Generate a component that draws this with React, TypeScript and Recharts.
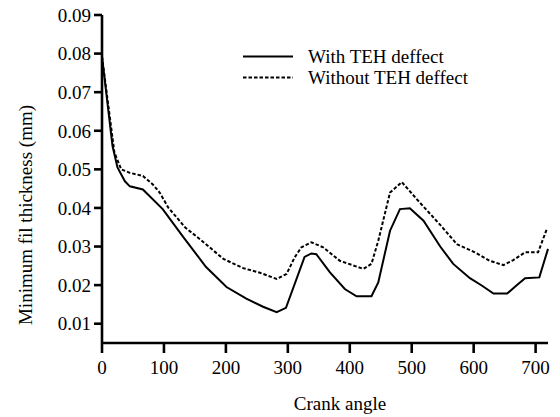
import { LineChart, Line, XAxis, YAxis, Legend, Label } from 'recharts'

const withAngles = [0, 17, 25, 37, 45, 66, 98, 131, 168, 201, 233, 260, 282, 297, 327, 338, 346, 368, 392, 411, 435, 446, 465, 481, 497, 519, 546, 567, 594, 613, 632, 654, 669, 683, 706, 720]
const withValues = [0.0792, 0.056, 0.0505, 0.0469, 0.0456, 0.0448, 0.0397, 0.0325, 0.0247, 0.0195, 0.0165, 0.0144, 0.013, 0.0141, 0.0273, 0.0282, 0.028, 0.0233, 0.019, 0.0171, 0.0171, 0.0207, 0.0341, 0.0397, 0.0399, 0.0367, 0.03, 0.0255, 0.0218, 0.0199, 0.0178, 0.0178, 0.0199, 0.0218, 0.022, 0.0294]

const withoutAngles = [0, 20, 31, 45, 66, 82, 93, 107, 134, 161, 196, 228, 255, 282, 298, 311, 322, 338, 357, 384, 422, 435, 446, 465, 484, 508, 546, 573, 602, 626, 648, 664, 683, 704, 718]
const withoutValues = [0.0792, 0.0544, 0.05, 0.0491, 0.0483, 0.0461, 0.044, 0.0401, 0.035, 0.0315, 0.0268, 0.0244, 0.0232, 0.0216, 0.0229, 0.0272, 0.0298, 0.0311, 0.0298, 0.0263, 0.0242, 0.0255, 0.0315, 0.044, 0.0467, 0.0423, 0.0356, 0.0306, 0.0285, 0.0263, 0.0252, 0.0265, 0.0285, 0.0285, 0.0345]

const xTicks = [0, 100, 200, 300, 400, 500, 600, 700]
const yTicks = [0.01, 0.02, 0.03, 0.04, 0.05, 0.06, 0.07, 0.08, 0.09]

const seriesNames = ['With TEH deffect', 'Without TEH deffect']
const seriesDash = ['', '3.5 2']

const withData = withAngles.map((angle, i) => ({ angle, value: withValues[i] }))
const withoutData = withoutAngles.map((angle, i) => ({ angle, value: withoutValues[i] }))

const FONT = 'Liberation Serif, serif'
const tickStyle = { fontFamily: FONT, fontSize: 19, fill: '#000' }

function renderLegend(props: any) {
  const payload = props.payload || []
  return (
    <div style={{ fontFamily: FONT, fontSize: 19, color: '#000' }}>
      {payload.map((entry: any, i: number) => {
        const idx = seriesNames.indexOf(entry.value)
        return (
          <div key={i} style={{ display: 'flex', alignItems: 'center', height: 21 }}>
            <svg width={50} height={21}>
              <line x1={0} y1={10.5} x2={50} y2={10.5} stroke="#000" strokeWidth={2} strokeDasharray={seriesDash[idx] || undefined} />
            </svg>
            <span style={{ marginLeft: 15, lineHeight: '21px' }}>{entry.value}</span>
          </div>
        )
      })}
    </div>
  )
}

export default function App() {
  return (
    <div style={{ position: 'absolute', left: 0, top: 0, background: '#fff', fontFamily: FONT }}>
      <LineChart width={560} height={417} margin={{ top: 15, right: 12, bottom: 0, left: 0 }}>
        <XAxis
          dataKey="angle"
          type="number"
          domain={[0, 720]}
          ticks={xTicks}
          allowDuplicatedCategory={false}
          height={74}
          stroke="#000"
          strokeWidth={2.6}
          tickSize={10}
          tickMargin={8}
          tick={tickStyle}
        >
          <Label value="Crank angle" position="center" dx={15} dy={23} style={{ fontFamily: FONT, fontSize: 19, fill: '#000' }} />
        </XAxis>
        <YAxis
          type="number"
          domain={[0.005, 0.09]}
          ticks={yTicks}
          width={102}
          stroke="#000"
          strokeWidth={2.6}
          tickSize={8}
          tickMargin={3}
          tick={tickStyle}
          tickFormatter={(v: number) => v.toFixed(2)}
        >
          <Label value="Minimum fil thickness (mm)" angle={-90} position="center" dx={-26} dy={36} style={{ fontFamily: FONT, fontSize: 19, fill: '#000' }} />
        </YAxis>
        <Legend
          layout="vertical"
          align="center"
          verticalAlign="middle"
          content={renderLegend}
          wrapperStyle={{ left: 243, top: 46, width: 'auto' }}
        />
        <Line
          data={withData}
          dataKey="value"
          name={seriesNames[0]}
          type="linear"
          stroke="#000"
          strokeWidth={2}
          dot={false}
          isAnimationActive={false}
        />
        <Line
          data={withoutData}
          dataKey="value"
          name={seriesNames[1]}
          type="linear"
          stroke="#000"
          strokeWidth={2}
          strokeDasharray={seriesDash[1]}
          dot={false}
          isAnimationActive={false}
        />
      </LineChart>
    </div>
  )
}
